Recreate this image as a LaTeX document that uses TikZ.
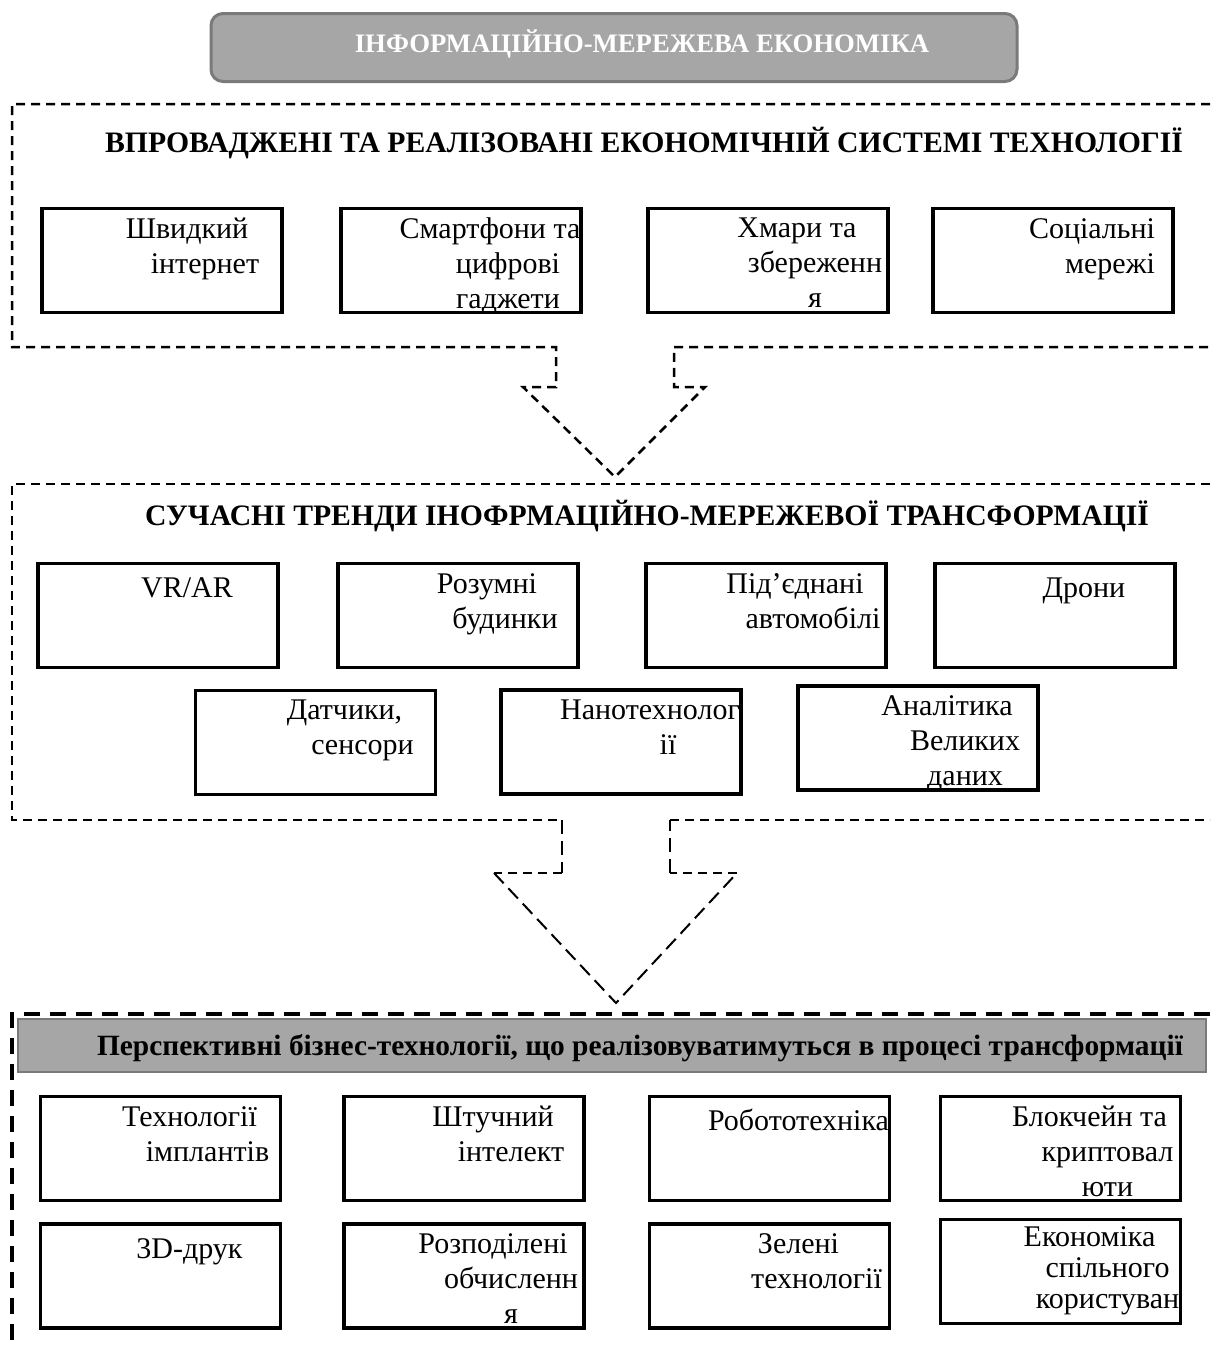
\documentclass[tikz,border=0pt]{standalone}
\usepackage{fontspec}
\setmainfont{Liberation Serif}
\usepackage{tikz}

\definecolor{barfill}{HTML}{A6A6A6}
\definecolor{barline}{HTML}{7A7A7A}
\newcommand{\firstln}[1]{#1\hspace*{36pt}}

\begin{document}
\begin{tikzpicture}[x=1pt,y=-1pt,thick]
    \tikzstyle{techbox}=[draw,line width=3.5pt,minimum width=240pt,minimum height=104pt,inner sep=0pt]
    \tikzstyle{boxtext}=[anchor=north,inner sep=0pt,align=center,font=\fontsize{30}{35}\selectfont,execute at begin node=\strut]
    \tikzstyle{heading}=[anchor=base,inner sep=0pt,font=\fontsize{29.7}{34}\selectfont\bfseries]
    \tikzstyle{frame}=[line width=2.5pt,dash pattern=on 9pt off 6pt]
    \tikzstyle{longdash}=[line width=2pt,dash pattern=on 14pt off 7pt]
    \tikzstyle{bigframe}=[line width=3.5pt,dash pattern=on 16pt off 10pt]
    \useasboundingbox (0,0) rectangle (1210,1349);

    % Title
    \node[draw=barline,fill=barfill,line width=3pt,rounded corners=12pt,minimum width=806pt,minimum height=68pt] (top) at (614,47.5) {};
    \node[heading,text=white,font=\fontsize{26.7}{30}\selectfont\bfseries] (toptext) at (642,52) {ІНФОРМАЦІЙНО-МЕРЕЖЕВА ЕКОНОМІКА};

    % Frames with arrows
    \draw[frame] (1210,104) -- (12,104) -- (12,347) -- (556,347) -- (556,387) -- (523,387)
        -- (615,477) -- (705,387) -- (674,387) -- (674,347) -- (1210,347);
    \draw[frame] (1210,484) -- (12,484) -- (12,820) -- (562,820);
    \draw[longdash] (562,820) -- (562,873);
    \draw[frame] (562,873) -- (494,873);
    \draw[longdash] (494,873) -- (616,1003) -- (737,873);
    \draw[frame] (737,873) -- (670,873);
    \draw[longdash] (670,873) -- (670,820);
    \draw[frame] (670,820) -- (1210,820);
    \draw[bigframe] (1210,1014) -- (12,1014) -- (12,1349);

    % Headings
    \node[heading] (h1) at (644,152) {ВПРОВАДЖЕНІ ТА РЕАЛІЗОВАНІ ЕКОНОМІЧНІЙ СИСТЕМІ ТЕХНОЛОГІЇ};
    \node[heading] (h2) at (647,525) {СУЧАСНІ ТРЕНДИ ІНОФРМАЦІЙНО-МЕРЕЖЕВОЇ ТРАНСФОРМАЦІЇ};
    \node[draw=barline,fill=barfill,line width=2pt,minimum width=1188pt,minimum height=53pt] (bar) at (612,1045.5) {};
    \node[heading,font=\fontsize{29.4}{34}\selectfont\bfseries] (h3) at (640,1055) {Перспективні бізнес-технології, що реалізовуватимуться в процесі трансформації};

    % Implemented technologies
    \node[techbox] (a1) at (162,260.5) {};
    \node[techbox] (a2) at (461,260.5) {};
    \node[techbox] (a3) at (768,260.5) {};
    \node[techbox] (a4) at (1053,260.5) {};
    \node[boxtext] at ([xshift=43pt,yshift=-11pt]a1.north) {\firstln{Швидкий}\\інтернет};
    \node[boxtext] at ([xshift=47pt,yshift=-11pt]a2.north) {\firstln{Смартфони та}\\цифрові\\гаджети};
    \node[boxtext] at ([xshift=47pt,yshift=-11pt]a3.north) {\firstln{Хмари та}\\збереженн\\я};
    \node[boxtext] at ([xshift=57pt,yshift=-11pt]a4.north) {\firstln{Соціальні}\\мережі};

    % Current trends
    \node[techbox] (b1) at (158,615.5) {};
    \node[techbox] (b2) at (458,615.5) {};
    \node[techbox] (b3) at (766,615.5) {};
    \node[techbox] (b4) at (1055,615.5) {};
    \node[techbox] (b5) at (315.5,742.5) {};
    \node[techbox] (b6) at (621,742) {};
    \node[techbox] (b7) at (918,738) {};
    \node[boxtext] at ([xshift=47pt,yshift=-11pt]b1.north) {\firstln{VR/AR}};
    \node[boxtext] at ([xshift=47pt,yshift=-11pt]b2.north) {\firstln{Розумні}\\будинки};
    \node[boxtext] at ([xshift=47pt,yshift=-11pt]b3.north) {\firstln{Під’єднані}\\автомобілі};
    \node[boxtext] at ([xshift=47pt,yshift=-11pt]b4.north) {\firstln{Дрони}};
    \node[boxtext] at ([xshift=47pt,yshift=-11pt]b5.north) {\firstln{Датчики,}\\сенсори};
    \node[boxtext] at ([xshift=47pt,yshift=-11pt]b6.north) {\firstln{Нанотехнолог}\\ії};
    \node[boxtext] at ([xshift=47pt,yshift=-11pt]b7.north) {\firstln{Аналітика}\\Великих\\даних};

    % Perspective business technologies
    \node[techbox] (c1) at (160.5,1148.5) {};
    \node[techbox] (c2) at (464,1148.5) {};
    \node[techbox] (c3) at (769.5,1148.5) {};
    \node[techbox] (c4) at (1060.5,1148.5) {};
    \node[techbox] (c5) at (160.5,1276) {};
    \node[techbox] (c6) at (464,1276) {};
    \node[techbox] (c7) at (769.5,1276) {};
    \node[techbox] (c8) at (1060.5,1271.5) {};
    \node[boxtext] at ([xshift=47pt,yshift=-11pt]c1.north) {\firstln{Технології}\\імплантів};
    \node[boxtext] at ([xshift=47pt,yshift=-11pt]c2.north) {\firstln{Штучний}\\інтелект};
    \node[boxtext] at ([xshift=47pt,yshift=-11pt]c3.north) {\firstln{Робототехніка}};
    \node[boxtext] at ([xshift=47pt,yshift=-11pt]c4.north) {\firstln{Блокчейн та}\\криптовал\\юти};
    \node[boxtext] at ([xshift=47pt,yshift=-11pt]c5.north) {\firstln{3D-друк}};
    \node[boxtext] at ([xshift=47pt,yshift=-11pt]c6.north) {\firstln{Розподілені}\\обчисленн\\я};
    \node[boxtext] at ([xshift=47pt,yshift=-11pt]c7.north) {\firstln{Зелені}\\технології};
    \node[boxtext,font=\fontsize{30}{31}\selectfont] at ([xshift=47pt,yshift=-8pt]c8.north) {\firstln{Економіка}\\спільного\\користуван};
\end{tikzpicture}
\end{document}
